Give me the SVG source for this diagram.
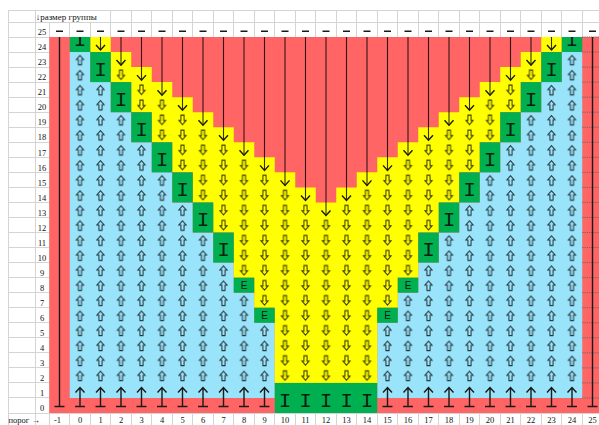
<svg xmlns="http://www.w3.org/2000/svg" xmlns:xlink="http://www.w3.org/1999/xlink" width="599" height="425" viewBox="0 0 599 425">
<style>
.g{stroke:#d4d4d4;stroke-width:1;fill:none}
.lbl{font-family:"Liberation Serif","DejaVu Serif",serif;font-size:8.5px;fill:#111;text-anchor:middle}
.ii{font-family:"Liberation Mono","DejaVu Sans Mono",monospace;font-size:21px;fill:#0d1f12;text-anchor:middle}
.ee{font-family:"Liberation Sans",Arial,sans-serif;font-size:10px;fill:#0d1a10;text-anchor:middle}
.ha{fill:none;stroke:#000;stroke-opacity:.78;stroke-width:1}
.st{fill:none;stroke:#000;stroke-opacity:.8;stroke-width:1.1}
.bk{fill:none;stroke:#1a1a1a;stroke-width:1.4}
</style>
<defs>
<pattern id="pu" patternUnits="userSpaceOnUse" x="49.25" y="37" width="20.5" height="15.04">
<path class="ha" d="M10.25 3.42L13.85 7.52H11.8V12.82H8.7V7.52H6.65Z"/>
</pattern>
<pattern id="pd" patternUnits="userSpaceOnUse" x="49.25" y="37" width="20.5" height="15.04">
<path class="ha" d="M8.7 2.92H11.8V8.32H13.85L10.25 12.42L6.65 8.32H8.7Z"/>
</pattern>
<g id="ub"><path class="bk" d="M0 387.5V406.5M-4.5 392.5L0 387.5L4.5 392.5M-5 406.5H5"/></g>
<clipPath id="c0"><rect x="69.75" y="37" width="20.5" height="15.04"/></clipPath>
<clipPath id="c24"><rect x="561.75" y="37" width="20.5" height="15.04"/></clipPath>
</defs>
<rect width="599" height="425" fill="#fff"/>
<g id="grid" shape-rendering="crispEdges">
<path class="g" d="M8 10H599M8 22H599M8 37H599M8 52.04H599M8 67.08H599M8 82.12H599M8 97.16H599M8 112.2H599M8 127.24H599M8 142.28H599M8 157.32H599M8 172.36H599M8 187.4H599M8 202.44H599M8 217.48H599M8 232.52H599M8 247.56H599M8 262.6H599M8 277.64H599M8 292.68H599M8 307.72H599M8 322.76H599M8 337.8H599M8 352.84H599M8 367.88H599M8 382.92H599M8 397.96H599M8 413H599"/>
<path class="g" d="M8 10V425M35 10V425M49.25 22V425M69.75 22V425M90.25 22V425M110.75 10V425M131.25 10V425M151.75 10V425M172.25 10V425M192.75 10V425M213.25 10V425M233.75 10V425M254.25 10V425M274.75 10V425M295.25 10V425M315.75 10V425M336.25 10V425M356.75 10V425M377.25 10V425M397.75 10V425M418.25 10V425M438.75 10V425M459.25 10V425M479.75 10V425M500.25 10V425M520.75 10V425M541.25 10V425M561.75 10V425M582.25 10V425"/>
</g>
<g id="cells">
<rect x="49.25" y="37" width="550" height="376" fill="#ff6565"/>
<path fill="#9ae4fb" d="M69.75 397.96V52.04H90.25V82.12H110.75V112.2H131.25V142.28H151.75V172.36H172.25V202.44H192.75V232.52H213.25V262.6H233.75V292.68H254.25V322.76H274.75V397.96ZM377.25 397.96V322.76H397.75V292.68H418.25V262.6H438.75V232.52H459.25V202.44H479.75V172.36H500.25V142.28H520.75V112.2H541.25V82.12H561.75V52.04H582.25V397.96Z"/>
<path fill="#ffff00" d="M90.25 37H110.75V52.04H131.25V67.08H151.75V82.12H172.25V97.16H192.75V112.2H213.25V127.24H233.75V142.28H254.25V157.32H274.75V172.36H295.25V187.4H315.75V202.44H336.25V187.4H356.75V172.36H377.25V157.32H397.75V142.28H418.25V127.24H438.75V112.2H459.25V97.16H479.75V82.12H500.25V67.08H520.75V52.04H541.25V37H561.75V52.04H541.25V82.12H520.75V112.2H500.25V142.28H479.75V172.36H459.25V202.44H438.75V232.52H418.25V277.64H397.75V307.72H377.25V382.92H274.75V307.72H254.25V277.64H233.75V232.52H213.25V202.44H192.75V172.36H172.25V142.28H151.75V112.2H131.25V82.12H110.75V52.04H90.25Z"/>
<g fill="#00b050">
<rect x="69.75" y="37" width="20.5" height="15.04"/>
<rect x="90.25" y="52.04" width="20.5" height="30.08"/>
<rect x="110.75" y="82.12" width="20.5" height="30.08"/>
<rect x="131.25" y="112.2" width="20.5" height="30.08"/>
<rect x="151.75" y="142.28" width="20.5" height="30.08"/>
<rect x="172.25" y="172.36" width="20.5" height="30.08"/>
<rect x="192.75" y="202.44" width="20.5" height="30.08"/>
<rect x="213.25" y="232.52" width="20.5" height="30.08"/>
<rect x="233.75" y="277.64" width="20.5" height="15.04"/>
<rect x="254.25" y="307.72" width="20.5" height="15.04"/>
<rect x="274.75" y="382.92" width="102.5" height="30.08"/>
<rect x="377.25" y="307.72" width="20.5" height="15.04"/>
<rect x="397.75" y="277.64" width="20.5" height="15.04"/>
<rect x="418.25" y="232.52" width="20.5" height="30.08"/>
<rect x="438.75" y="202.44" width="20.5" height="30.08"/>
<rect x="459.25" y="172.36" width="20.5" height="30.08"/>
<rect x="479.75" y="142.28" width="20.5" height="30.08"/>
<rect x="500.25" y="112.2" width="20.5" height="30.08"/>
<rect x="520.75" y="82.12" width="20.5" height="30.08"/>
<rect x="541.25" y="52.04" width="20.5" height="30.08"/>
<rect x="561.75" y="37" width="20.5" height="15.04"/>
</g>
<path fill="none" stroke="#6a6a6a" stroke-dasharray="1.2 1" d="M582.25 37H599M582.25 52.04H599M582.25 67.08H599M582.25 82.12H599M582.25 97.16H599M582.25 112.2H599M582.25 127.24H599M582.25 142.28H599M582.25 157.32H599M582.25 172.36H599M582.25 187.4H599M582.25 202.44H599M582.25 217.48H599M582.25 232.52H599M582.25 247.56H599M582.25 262.6H599M582.25 277.64H599M582.25 292.68H599M582.25 307.72H599M582.25 322.76H599M582.25 337.8H599M582.25 352.84H599M582.25 367.88H599M582.25 382.92H599M582.25 397.96H599"/>
</g>
<g id="hollow-arrows">
<path fill="url(#pu)" d="M69.75 382.92V52.04H90.25V82.12H110.75V112.2H131.25V142.28H151.75V172.36H172.25V202.44H192.75V232.52H213.25V262.6H233.75V292.68H254.25V322.76H274.75V382.92ZM377.25 382.92V322.76H397.75V292.68H418.25V262.6H438.75V232.52H459.25V202.44H479.75V172.36H500.25V142.28H520.75V112.2H541.25V82.12H561.75V52.04H582.25V382.92Z"/>
<path fill="url(#pd)" d="M110.75 67.08H131.25V82.12H151.75V97.16H172.25V112.2H192.75V127.24H213.25V142.28H233.75V157.32H254.25V172.36H274.75V187.4H295.25V202.44H315.75V217.48H336.25V202.44H356.75V187.4H377.25V172.36H397.75V157.32H418.25V142.28H438.75V127.24H459.25V112.2H479.75V97.16H500.25V82.12H520.75V67.08H541.25V82.12H520.75V112.2H500.25V142.28H479.75V172.36H459.25V202.44H438.75V232.52H418.25V277.64H397.75V307.72H377.25V382.92H274.75V307.72H254.25V277.64H233.75V232.52H213.25V202.44H192.75V172.36H172.25V142.28H151.75V112.2H131.25V82.12H110.75Z"/>
</g>
<g id="connectors">
<path class="st" d="M100.5 37V50.04M121 37V65.08M141.5 37V80.12M162 37V95.16M182.5 37V110.2M203 37V125.24M223.5 37V140.28M244 37V155.32M264.5 37V170.36M285 37V185.4M305.5 37V200.44M326 37V215.48M346.5 37V200.44M367 37V185.4M387.5 37V170.36M408 37V155.32M428.5 37V140.28M449 37V125.24M469.5 37V110.2M490 37V95.16M510.5 37V80.12M531 37V65.08M551.5 37V50.04"/>
<path class="bk" d="M96 45.04L100.5 50.04L105 45.04M116.5 60.08L121 65.08L125.5 60.08M137 75.12L141.5 80.12L146 75.12M157.5 90.16L162 95.16L166.5 90.16M178 105.2L182.5 110.2L187 105.2M198.5 120.24L203 125.24L207.5 120.24M219 135.28L223.5 140.28L228 135.28M239.5 150.32L244 155.32L248.5 150.32M260 165.36L264.5 170.36L269 165.36M280.5 180.4L285 185.4L289.5 180.4M301 195.44L305.5 200.44L310 195.44M321.5 210.48L326 215.48L330.5 210.48M342 195.44L346.5 200.44L351 195.44M362.5 180.4L367 185.4L371.5 180.4M383 165.36L387.5 170.36L392 165.36M403.5 150.32L408 155.32L412.5 150.32M424 135.28L428.5 140.28L433 135.28M444.5 120.24L449 125.24L453.5 120.24M465 105.2L469.5 110.2L474 105.2M485.5 90.16L490 95.16L494.5 90.16M506 75.12L510.5 80.12L515 75.12M526.5 60.08L531 65.08L535.5 60.08M547 45.04L551.5 50.04L556 45.04"/>
<path class="bk" d="M59.5 37V406.5M54.5 406.5H64.5M592.5 37V406.5M587.5 406.5H597.5"/>
<use xlink:href="#ub" x="80"/><use xlink:href="#ub" x="100.5"/><use xlink:href="#ub" x="121"/><use xlink:href="#ub" x="141.5"/><use xlink:href="#ub" x="162"/><use xlink:href="#ub" x="182.5"/><use xlink:href="#ub" x="203"/><use xlink:href="#ub" x="223.5"/><use xlink:href="#ub" x="244"/><use xlink:href="#ub" x="264.5"/>
<use xlink:href="#ub" x="387.5"/><use xlink:href="#ub" x="408"/><use xlink:href="#ub" x="428.5"/><use xlink:href="#ub" x="449"/><use xlink:href="#ub" x="469.5"/><use xlink:href="#ub" x="490"/><use xlink:href="#ub" x="510.5"/><use xlink:href="#ub" x="531"/><use xlink:href="#ub" x="551.5"/><use xlink:href="#ub" x="572"/>
<path class="bk" stroke-width="1.5" d="M56 31.3h7M76.5 31.3h7M97 31.3h7M117.5 31.3h7M138 31.3h7M158.5 31.3h7M179 31.3h7M199.5 31.3h7M220 31.3h7M240.5 31.3h7M261 31.3h7M281.5 31.3h7M302 31.3h7M322.5 31.3h7M343 31.3h7M363.5 31.3h7M384 31.3h7M404.5 31.3h7M425 31.3h7M445.5 31.3h7M466 31.3h7M486.5 31.3h7M507 31.3h7M527.5 31.3h7M548 31.3h7M568.5 31.3h7M589 31.3h7"/>
</g>
<g id="green-marks">
<text class="ii" x="80" y="45.7" clip-path="url(#c0)">I</text>
<text class="ii" x="100.5" y="75.78">I</text>
<text class="ii" x="121" y="105.86">I</text>
<text class="ii" x="141.5" y="135.94">I</text>
<text class="ii" x="162" y="166.02">I</text>
<text class="ii" x="182.5" y="196.1">I</text>
<text class="ii" x="203" y="226.18">I</text>
<text class="ii" x="223.5" y="256.26">I</text>
<text class="ee" x="244" y="289.2">E</text>
<text class="ee" x="264.5" y="319.3">E</text>
<text class="ii" x="285" y="406.66">I</text>
<text class="ii" x="305.5" y="406.66">I</text>
<text class="ii" x="326" y="406.66">I</text>
<text class="ii" x="346.5" y="406.66">I</text>
<text class="ii" x="367" y="406.66">I</text>
<text class="ee" x="387.5" y="319.3">E</text>
<text class="ee" x="408" y="289.2">E</text>
<text class="ii" x="428.5" y="256.26">I</text>
<text class="ii" x="449" y="226.18">I</text>
<text class="ii" x="469.5" y="196.1">I</text>
<text class="ii" x="490" y="166.02">I</text>
<text class="ii" x="510.5" y="135.94">I</text>
<text class="ii" x="531" y="105.86">I</text>
<text class="ii" x="551.5" y="75.78">I</text>
<text class="ii" x="572" y="45.7" clip-path="url(#c24)">I</text>
</g>
<g id="labels">
<text class="lbl" x="35.7" y="19.5" style="text-anchor:start;font-size:9px">↓размер группы</text>
<text class="lbl" x="42" y="35.2">25</text>
<text class="lbl" x="42" y="50.24">24</text>
<text class="lbl" x="42" y="65.28">23</text>
<text class="lbl" x="42" y="80.32">22</text>
<text class="lbl" x="42" y="95.36">21</text>
<text class="lbl" x="42" y="110.4">20</text>
<text class="lbl" x="42" y="125.44">19</text>
<text class="lbl" x="42" y="140.48">18</text>
<text class="lbl" x="42" y="155.52">17</text>
<text class="lbl" x="42" y="170.56">16</text>
<text class="lbl" x="42" y="185.6">15</text>
<text class="lbl" x="42" y="200.64">14</text>
<text class="lbl" x="42" y="215.68">13</text>
<text class="lbl" x="42" y="230.72">12</text>
<text class="lbl" x="42" y="245.76">11</text>
<text class="lbl" x="42" y="260.8">10</text>
<text class="lbl" x="42" y="275.84">9</text>
<text class="lbl" x="42" y="290.88">8</text>
<text class="lbl" x="42" y="305.92">7</text>
<text class="lbl" x="42" y="320.96">6</text>
<text class="lbl" x="42" y="336">5</text>
<text class="lbl" x="42" y="351.04">4</text>
<text class="lbl" x="42" y="366.08">3</text>
<text class="lbl" x="42" y="381.12">2</text>
<text class="lbl" x="42" y="396.16">1</text>
<text class="lbl" x="42" y="411.2">0</text>
<text class="lbl" x="8.5" y="422.5" style="text-anchor:start">порог →</text>
<text class="lbl" x="57.5" y="422.5">-1</text>
<text class="lbl" x="80" y="422.5">0</text>
<text class="lbl" x="100.5" y="422.5">1</text>
<text class="lbl" x="121" y="422.5">2</text>
<text class="lbl" x="141.5" y="422.5">3</text>
<text class="lbl" x="162" y="422.5">4</text>
<text class="lbl" x="182.5" y="422.5">5</text>
<text class="lbl" x="203" y="422.5">6</text>
<text class="lbl" x="223.5" y="422.5">7</text>
<text class="lbl" x="244" y="422.5">8</text>
<text class="lbl" x="264.5" y="422.5">9</text>
<text class="lbl" x="285" y="422.5">10</text>
<text class="lbl" x="305.5" y="422.5">11</text>
<text class="lbl" x="326" y="422.5">12</text>
<text class="lbl" x="346.5" y="422.5">13</text>
<text class="lbl" x="367" y="422.5">14</text>
<text class="lbl" x="387.5" y="422.5">15</text>
<text class="lbl" x="408" y="422.5">16</text>
<text class="lbl" x="428.5" y="422.5">17</text>
<text class="lbl" x="449" y="422.5">18</text>
<text class="lbl" x="469.5" y="422.5">19</text>
<text class="lbl" x="490" y="422.5">20</text>
<text class="lbl" x="510.5" y="422.5">21</text>
<text class="lbl" x="531" y="422.5">22</text>
<text class="lbl" x="551.5" y="422.5">23</text>
<text class="lbl" x="572" y="422.5">24</text>
<text class="lbl" x="592.5" y="422.5">25</text>
</g>
</svg>
